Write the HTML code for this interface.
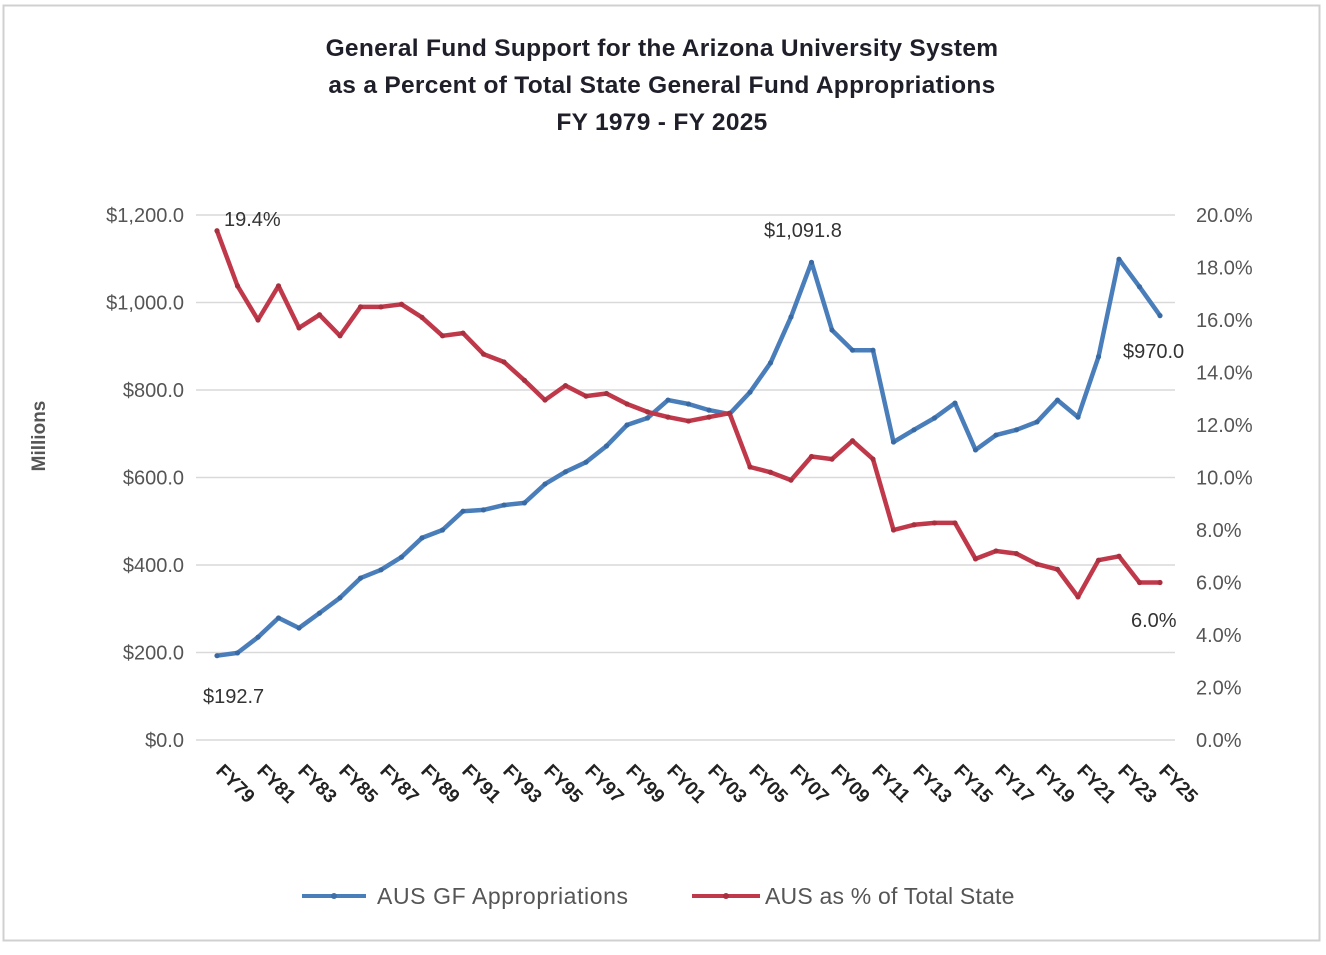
<!DOCTYPE html>
<html><head><meta charset="utf-8"><style>
html,body{margin:0;padding:0;background:#fff;}
body{width:1326px;height:950px;overflow:hidden;font-family:"Liberation Sans",sans-serif;}
</style></head><body>
<svg id="chart" width="1326" height="950" xmlns="http://www.w3.org/2000/svg" font-family="Liberation Sans, sans-serif">
<rect x="3.5" y="5.5" width="1316" height="935" fill="#fff" stroke="#d0d0d0" stroke-width="2"/>
<g font-size="24.5" font-weight="bold" fill="#1f1f2a" text-anchor="middle" letter-spacing="0.3">
<text x="662" y="56">General Fund Support for the Arizona University System</text>
<text x="662" y="93">as a Percent of Total State General Fund Appropriations</text>
<text x="662" y="130">FY 1979 - FY 2025</text>
</g>
<text transform="translate(45,436) rotate(-90)" text-anchor="middle" font-size="19" font-weight="bold" fill="#555">Millions</text>
<g id="grid"></g><g id="lticks"></g><g id="rticks"></g><g id="xticks"></g><g id="series"></g><g id="labels"></g>
<g>
<g>
<line x1="302" y1="896" x2="366" y2="896" stroke="#4a7ebb" stroke-width="4"/>
<circle cx="334" cy="896" r="3" fill="#3f6fa8"/>
<text x="377" y="904" font-size="23" fill="#555" letter-spacing="0.6">AUS GF Appropriations</text></g>
<g>
<line x1="692" y1="896" x2="760" y2="896" stroke="#c0394b" stroke-width="4"/>
<circle cx="726" cy="896" r="3" fill="#a8303f"/>
<text x="765" y="904" font-size="23" fill="#555" letter-spacing="0.2">AUS as % of Total State</text></g>
</g>
</svg>
<script>
const years = [];
for (let y = 1979; y <= 2025; y++) years.push(y);
const appropriations = [192.7,199,235,279,256,290,325,370,389,418,462,480,523,526,537,542,585,613,635,672,720,736,777,768,754,745,795,862,967,1091.8,937,891,891,681,709,736,770,663,697,709,727,777,738,876,1099,1036,970.0];
const percentOfState = [19.4,17.3,16.0,17.3,15.7,16.2,15.4,16.5,16.5,16.6,16.1,15.4,15.5,14.7,14.4,13.7,12.95,13.5,13.1,13.2,12.8,12.5,12.3,12.15,12.3,12.45,10.4,10.2,9.9,10.8,10.7,11.4,10.7,8.0,8.2,8.27,8.27,6.9,7.2,7.1,6.7,6.5,5.45,6.85,7.0,6.0,6.0];
const leftTicks = [0,200,400,600,800,1000,1200];
const rightTicks = [0,2,4,6,8,10,12,14,16,18,20];

const NS = "http://www.w3.org/2000/svg";
const x0 = 217, x1 = 1160, yBase = 740, yTop = 215;
function xs(i){ return x0 + (x1 - x0) * i / (years.length - 1); }
function yl(v){ return yBase - (yBase - yTop) * v / 1200; }
function yr(v){ return yBase - (yBase - yTop) * v / 20; }
function mk(tag, attrs, parent){ const e = document.createElementNS(NS, tag); for (const k in attrs) e.setAttribute(k, attrs[k]); parent.appendChild(e); return e; }

const grid = document.getElementById('grid');
const lt = document.getElementById('lticks');
leftTicks.forEach(v => {
  const g = mk('line', {x1: 196, x2: 1175, y1: yl(v), y2: yl(v), stroke: '#d9d9d9', 'stroke-width': 1.5}, grid);
  
  
  const t = mk('text', {x: 184, y: yl(v) + 7, 'text-anchor': 'end', 'font-size': 20, fill: '#555'}, lt);
  t.textContent = '$' + v.toLocaleString('en-US', {minimumFractionDigits: 1, maximumFractionDigits: 1});
  
  
});
const rt = document.getElementById('rticks');
rightTicks.forEach(v => {
  const t = mk('text', {x: 1196, y: yr(v) + 7, 'font-size': 20, fill: '#555'}, rt);
  t.textContent = v.toFixed(1) + '%';
  
  
});
const xt = document.getElementById('xticks');
years.forEach((y, i) => {
  if (i % 2 !== 0) return;
  const x = xs(i) - 2, yy = 772;
  const t = mk('text', {x: x, y: yy, transform: `rotate(45 ${x} ${yy})`, 'font-size': 19, 'font-weight': 'bold', fill: '#222'}, xt);
  t.textContent = 'FY' + String(y).slice(2);
  
  
});
const ser = document.getElementById('series');
function drawSeries(vals, yf, color, dot, name){
  const pts = vals.map((v, i) => xs(i).toFixed(1) + ',' + yf(v).toFixed(1)).join(' ');
  const pl = mk('polyline', {points: pts, fill: 'none', stroke: color, 'stroke-width': 4.5, 'stroke-linejoin': 'round'}, ser);
  
  
  vals.forEach((v, i) => {
    const c = mk('circle', {cx: xs(i), cy: yf(v), r: 2.6, fill: dot}, ser);
    
    
  });
}
drawSeries(appropriations, yl, '#4a7ebb', '#3a6aa3', 'appropriations');
drawSeries(percentOfState, yr, '#c0394b', '#a8303f', 'percent');

const lb = document.getElementById('labels');
function lab(txt, x, y, name){
  const t = mk('text', {x: x, y: y, 'font-size': 20, fill: '#333'}, lb);
  t.textContent = txt;
  
  
}
lab('19.4%', 224, 226, 'label-first-percent');
lab('$1,091.8', 764, 237, 'label-peak-appropriation');
lab('$970.0', 1123, 358, 'label-last-appropriation');
lab('$192.7', 203, 703, 'label-first-appropriation');
lab('6.0%', 1131, 627, 'label-last-percent');
</script>
</body></html>
